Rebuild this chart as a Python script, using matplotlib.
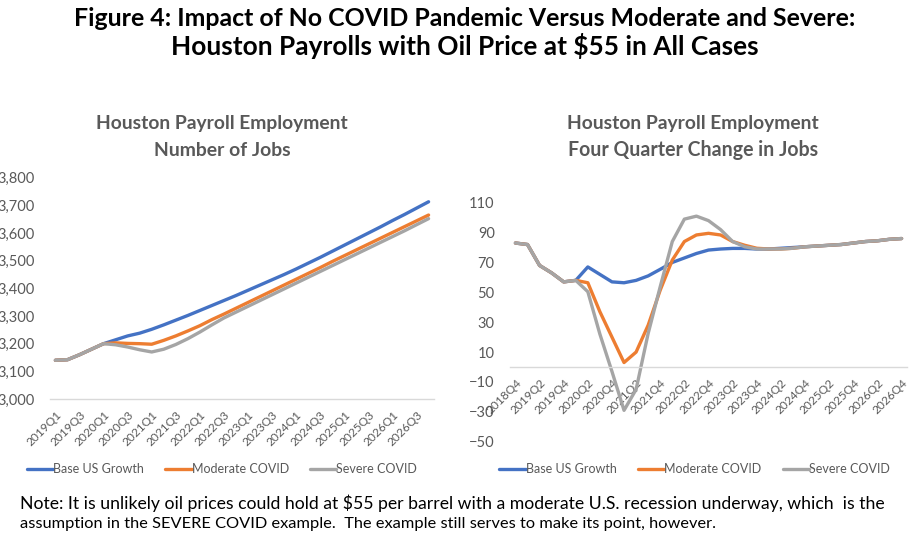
import matplotlib
matplotlib.use("Agg")
import matplotlib.pyplot as plt
import numpy as np

# ---------------- data ----------------
left_quarters = [f"{y}Q{q}" for y in range(2019, 2027) for q in range(1, 5)]
base_jobs = [3140, 3142, 3160, 3180, 3200, 3214, 3228, 3238, 3252, 3268, 3285, 3302,
             3320, 3338, 3356, 3374, 3393, 3412, 3431, 3450, 3470, 3491, 3512, 3534,
             3556, 3578, 3600, 3622, 3645, 3667, 3690, 3713]
moderate_jobs = [3140, 3142, 3160, 3180, 3200, 3203, 3201, 3200, 3198, 3212, 3228, 3246,
                 3265, 3287, 3307, 3328, 3349, 3370, 3391, 3412, 3433, 3454, 3475, 3497,
                 3518, 3539, 3560, 3581, 3602, 3623, 3644, 3665]
severe_jobs = [3140, 3142, 3160, 3180, 3200, 3196, 3188, 3178, 3170, 3180, 3197, 3218,
               3242, 3268, 3293, 3314, 3335, 3356, 3377, 3398, 3419, 3440, 3461, 3482,
               3503, 3524, 3545, 3566, 3587, 3608, 3630, 3652]

right_quarters = ["2018Q4"] + [f"{y}Q{q}" for y in range(2019, 2027) for q in range(1, 5)]
base_chg = [83, 82, 68, 63, 57, 58, 67, 62, 57, 56.4, 58, 61, 65.4, 70, 73, 76, 78.3,
            79, 79.4, 79.4, 79, 79, 79.5, 80, 80.5, 81, 81.5, 82, 83, 84, 84.5, 85.5, 86]
moderate_chg = [83, 82, 68, 63, 57, 58, 56.4, 37, 20, 3, 10, 28, 51.5, 71.6, 84, 88.4,
                89.5, 88.4, 84, 81.5, 79.5, 79, 79, 79.5, 80.5, 81, 81.5, 82, 83, 84, 84.5, 85.5, 86]
severe_chg = [83, 82, 68, 63, 57, 58, 50.4, 22, -3, -29, -15, 22.5, 53.8, 84, 99, 101,
              98, 92, 84, 80.5, 79, 79, 79, 79.5, 80.5, 81, 81.5, 82, 83, 84, 84.5, 85.5, 86]

series_names = ["Base US Growth", "Moderate COVID", "Severe COVID"]
colors = ["#4472C4", "#ED7D31", "#A5A5A5"]

left_yticks = list(range(3000, 3801, 100))
right_yticks = list(range(-50, 111, 20))

# ---------------- figure ----------------
FONT = "Lato"
plt.rcParams["font.family"] = [FONT, "DejaVu Sans"]
W, H = 911, 537
fig = plt.figure(figsize=(W / 100, H / 100), dpi=100)
TXT = "#595959"


def px_ax(l, t, r, b):
    return fig.add_axes([l / W, 1 - b / H, (r - l) / W, (b - t) / H])


def fit_text(x, y, s, target_w, size0, **kw):
    t = fig.text(x / W, 1 - y / H, s, fontsize=size0, **kw)
    r = fig.canvas.get_renderer()
    w = t.get_window_extent(renderer=r).width
    t.set_fontsize(size0 * target_w / w)
    return t


def style(ax):
    for s in ("top", "right", "left"):
        ax.spines[s].set_visible(False)
    ax.spines["bottom"].set_color("#D9D9D9")
    ax.spines["bottom"].set_linewidth(1.0)
    ax.tick_params(axis="both", length=0, colors=TXT)
    ax.tick_params(axis="y", labelsize=10.5, pad=11)
    ax.set_facecolor("none")


# ----- left chart -----
axL = px_ax(50, 177.7, 434, 399)
style(axL)
xl = np.arange(len(left_quarters))
for vals, c, n in zip([base_jobs, moderate_jobs, severe_jobs], colors, series_names):
    axL.plot(xl, vals, color=c, lw=2.4, label=n, solid_capstyle="round")
axL.set_xlim(-0.45, len(left_quarters) - 0.55)
axL.set_ylim(3000, 3800)
axL.set_yticks(left_yticks)
axL.set_yticklabels([f"{v:,}" for v in left_yticks])
axL.set_xticks(xl[::2])
axL.set_xticklabels(left_quarters[::2], rotation=45, ha="right", rotation_mode="anchor",
                    fontsize=8.6, color=TXT)
axL.tick_params(axis="x", pad=7)

# ----- right chart -----
axR = px_ax(510, 202.7, 907, 441.7)
axR.spines["bottom"].set_position(("data", 0))
style(axR)
xr = np.arange(len(right_quarters))
for vals, c, n in zip([base_chg, moderate_chg, severe_chg], colors, series_names):
    axR.plot(xr, vals, color=c, lw=2.4, label=n, solid_capstyle="round")
axR.set_xlim(-0.45, len(right_quarters) - 0.55)
axR.set_ylim(-50, 110)
axR.set_yticks(right_yticks)
axR.set_xticks(xr[::2])
axR.set_xticklabels(right_quarters[::2], rotation=45, ha="right", rotation_mode="anchor",
                    fontsize=8.6, color=TXT)
axR.tick_params(axis="x", pad=7)

# legends
for ax, cx in ((axL, 222), (axR, 694.5)):
    ax.legend(loc="center", bbox_to_anchor=(cx / W, 1 - 469 / H), bbox_transform=fig.transFigure,
              ncol=3, frameon=False, fontsize=9, handlelength=2.1, handletextpad=0.0,
              columnspacing=1.7, labelcolor=TXT, borderpad=0, borderaxespad=0)

# titles
fit_text(465, 19, "Figure 4: Impact of No COVID Pandemic Versus Moderate and Severe:", 782, 16,
         ha="center", va="center", fontweight="bold", color="black")
fit_text(465, 46, "Houston Payrolls with Oil Price at $55 in All Cases", 588, 16,
         ha="center", va="center", fontweight="bold", color="black")
fit_text(222, 124, "Houston Payroll Employment", 252, 13, ha="center", va="center",
         fontweight="bold", color=TXT)
fit_text(222, 150, "Number of Jobs", 137, 13, ha="center", va="center",
         fontweight="bold", color=TXT)
fit_text(693, 124, "Houston Payroll Employment", 252, 13, ha="center", va="center",
         fontweight="bold", color=TXT)
fit_text(693, 150, "Four Quarter Change in Jobs", 249, 13, ha="center", va="center",
         fontweight="bold", color=TXT)

# note
fit_text(20, 503, "Note: It is unlikely oil prices could hold at $55 per barrel with a moderate U.S. "
         "recession underway, which  is the", 865, 11, ha="left", va="center", color="black")
fit_text(20, 524, "assumption in the SEVERE COVID example.  The example still serves to make its "
         "point, however.", 694, 11, ha="left", va="center", color="black")

fig.savefig("out.png", dpi=100)
